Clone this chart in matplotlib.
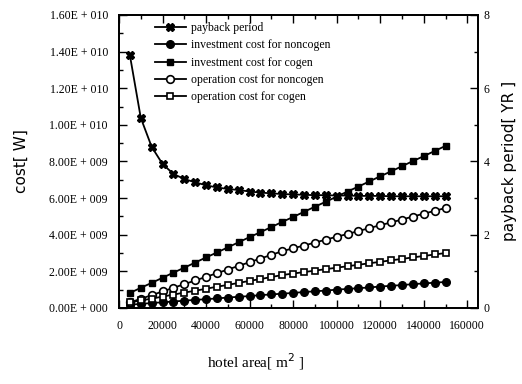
import numpy as np
from matplotlib import pyplot as plt
from matplotlib.ticker import MultipleLocator, FuncFormatter

# hotel area [m2]
area = list(range(5000, 150001, 5000))

# payback period [YR] (right axis)
payback = [6.90, 5.19, 4.40, 3.93, 3.66, 3.52, 3.43, 3.35, 3.29, 3.25,
           3.22, 3.18, 3.15, 3.13, 3.11, 3.10, 3.09, 3.08, 3.08, 3.07,
           3.07, 3.06, 3.06, 3.06, 3.05, 3.05, 3.05, 3.05, 3.05, 3.05]

# costs [W], in units of 1e9
inv_noncogen = [0.18, 0.22, 0.27, 0.31, 0.35, 0.40, 0.44, 0.48, 0.52, 0.57,
                0.61, 0.65, 0.70, 0.74, 0.78, 0.82, 0.87, 0.91, 0.95, 1.00,
                1.04, 1.08, 1.12, 1.17, 1.21, 1.25, 1.30, 1.34, 1.38, 1.42]
inv_cogen = [0.82, 1.10, 1.37, 1.65, 1.93, 2.20, 2.48, 2.76, 3.03, 3.31,
             3.59, 3.87, 4.14, 4.42, 4.70, 4.97, 5.25, 5.53, 5.80, 6.08,
             6.36, 6.63, 6.91, 7.19, 7.46, 7.74, 8.02, 8.29, 8.57, 8.85]
op_noncogen = [0.30, 0.50, 0.70, 0.90, 1.10, 1.30, 1.50, 1.70, 1.90, 2.10,
               2.30, 2.50, 2.70, 2.90, 3.10, 3.26, 3.41, 3.57, 3.73, 3.89,
               4.04, 4.20, 4.36, 4.52, 4.67, 4.83, 4.99, 5.15, 5.30, 5.46]
op_cogen = [0.30, 0.41, 0.51, 0.62, 0.73, 0.84, 0.94, 1.05, 1.16, 1.26,
            1.37, 1.48, 1.58, 1.69, 1.80, 1.88, 1.96, 2.04, 2.12, 2.20,
            2.28, 2.36, 2.44, 2.52, 2.60, 2.68, 2.76, 2.84, 2.92, 3.00]

plt.rcParams['font.family'] = 'Liberation Serif'

fig = plt.figure(figsize=(5.22, 3.84), dpi=100)
ax = fig.add_axes([0.228, 0.198, 0.688, 0.763])
ax2 = ax.twinx()

scale = 1e9
l0, = ax2.plot(area, payback, color='black', lw=1.3, marker='X', ms=5.5, label='payback period')
l1, = ax.plot(area, np.array(inv_noncogen) * scale, color='black', lw=1.3, marker='o', ms=5.5,
              label='investment cost for noncogen')
l2, = ax.plot(area, np.array(inv_cogen) * scale, color='black', lw=1.3, marker='s', ms=5,
              label='investment cost for cogen')
l3, = ax.plot(area, np.array(op_noncogen) * scale, color='black', lw=1.3, marker='o', ms=5.5,
              mfc='white', mew=1.2, label='operation cost for noncogen')
l4, = ax.plot(area, np.array(op_cogen) * scale, color='black', lw=1.3, marker='s', ms=5,
              mfc='white', mew=1.2, label='operation cost for cogen')

ax.set_xlim(0, 165000)
ax.set_ylim(0, 1.6e10)
ax2.set_ylim(0, 8)

ax.xaxis.set_major_locator(MultipleLocator(20000))
ax.xaxis.set_minor_locator(MultipleLocator(10000))
ax.yaxis.set_major_locator(MultipleLocator(2e9))
ax.yaxis.set_minor_locator(MultipleLocator(1e9))
ax2.yaxis.set_major_locator(MultipleLocator(2))
ax2.yaxis.set_minor_locator(MultipleLocator(1))


def sci(v, pos):
    if v >= 1e10:
        return '%.2fE + 010' % (v / 1e10)
    return '%.2fE + 00%d' % (v / 1e9, 9 if v > 0 else 0)


ax.yaxis.set_major_formatter(FuncFormatter(sci))
ax.tick_params(which='both', direction='in', top=True, labelsize=8.5)
ax.tick_params(axis='y', which='major', pad=8)
ax.tick_params(axis='x', which='major', pad=9)
ax.tick_params(which='major', length=6, width=1)
ax.tick_params(which='minor', length=3, width=1)
ax2.tick_params(which='both', direction='in', labelsize=8.5)
ax2.tick_params(which='major', length=6, width=1, pad=4)
ax2.tick_params(which='minor', length=3, width=1)
for a in (ax, ax2):
    for s in a.spines.values():
        s.set_linewidth(1.3)

ax.legend(handles=[l0, l1, l2, l3, l4], loc='upper left', bbox_to_anchor=(0.08, 1.0),
          frameon=False, fontsize=8.5, handlelength=2.6, labelspacing=0.45,
          borderaxespad=0.2, handletextpad=0.5)

fig.text(0.04, 0.58, 'cost[ W]', rotation=90, ha='center', va='center', fontsize=11,
         family='DejaVu Sans')
fig.text(0.977, 0.58, 'payback period[ YR ]', rotation=90, ha='center', va='center',
         fontsize=11, family='DejaVu Sans')
fig.text(0.49, 0.058, 'hotel area[ m$^2$ ]', ha='center', va='center', fontsize=11)

fig.savefig('out.png', dpi=100)
